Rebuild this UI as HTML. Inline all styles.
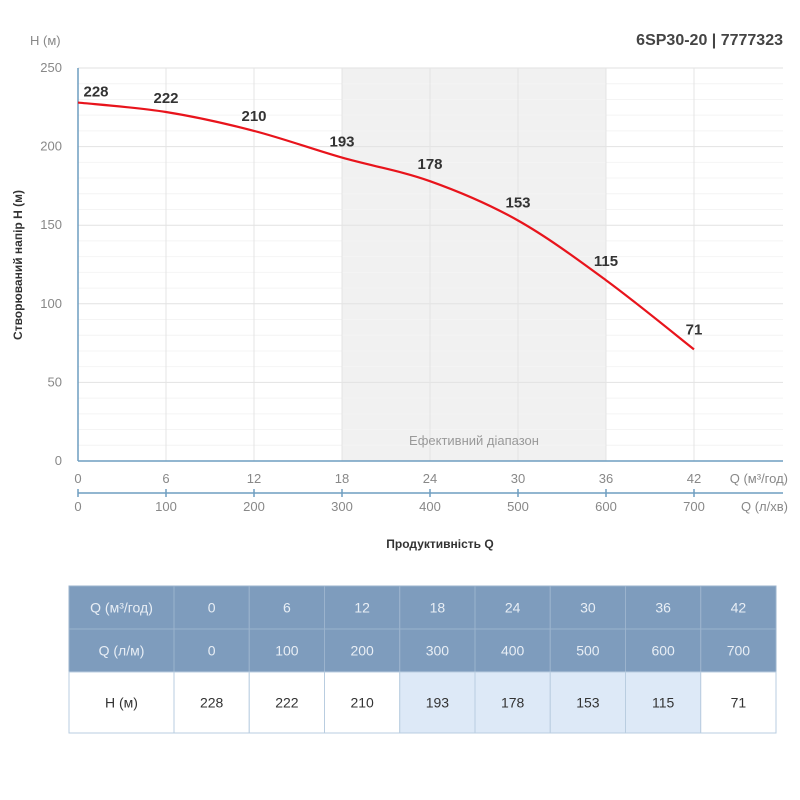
<!DOCTYPE html>
<html><head><meta charset="utf-8"><style>
body{margin:0;background:#fff;font-family:"Liberation Sans",sans-serif}
svg{display:block}
</style></head><body>
<svg width="800" height="800" viewBox="0 0 800 800">
<g id="plot"></g>
</svg>
<script>
const qM3 = [0,6,12,18,24,30,36,42];
const qLm = [0,100,200,300,400,500,600,700];
const head = [228,222,210,193,178,153,115,71];
const yTicks = [0,50,100,150,200,250];
const effRange = [18,36];
const NS='http://www.w3.org/2000/svg';
const svg=document.querySelector('svg');
const X0=78,XR=783,Y0=461,YT=68;
const xs=q=>X0+q*(616/42);
const ys=h=>Y0-h*(Y0-YT)/250;
function mk(t,a,p){const e=document.createElementNS(NS,t);for(const k in a)e.setAttribute(k,a[k]);(p||svg).appendChild(e);return e;}
function txt(s,a){const e=mk('text',a);e.textContent=s;return e;}
let sh=mk('rect',{x:xs(effRange[0]),y:YT,width:xs(effRange[1])-xs(effRange[0]),height:Y0-YT,fill:'#f1f1f1'});


for(let v=0;v<=250;v+=10){let l=mk('line',{x1:X0,x2:XR,y1:ys(v),y2:ys(v),stroke:v%50==0?'#e2e2e2':'#f4f4f4','stroke-width':1});

}
qM3.forEach(q=>{let l=mk('line',{x1:xs(q),x2:xs(q),y1:YT,y2:Y0,stroke:'#e4e4e4'});

});
let er=txt('Ефективний діапазон',{x:(xs(effRange[0])+xs(effRange[1]))/2,y:445,'text-anchor':'middle','font-size':13,fill:'#999'});


mk('line',{x1:X0,x2:X0,y1:YT,y2:Y0,stroke:'#6f9ec0','stroke-width':1.5});
mk('line',{x1:X0,x2:XR,y1:Y0,y2:Y0,stroke:'#6f9ec0','stroke-width':1.5});
mk('line',{x1:X0,x2:XR,y1:493,y2:493,stroke:'#6f9ec0','stroke-width':1.5});
yTicks.forEach(v=>{let t=txt(v,{x:62,y:ys(v)+4,'text-anchor':'end','font-size':13,fill:'#888'});

});
qM3.forEach((q,i)=>{
let t=txt(q,{x:xs(q),y:483,'text-anchor':'middle','font-size':13,fill:'#888'});


mk('line',{x1:xs(q),x2:xs(q),y1:489,y2:497,stroke:'#6f9ec0','stroke-width':1.5});
let t2=txt(qLm[i],{x:xs(q),y:511,'text-anchor':'middle','font-size':13,fill:'#888'});


});
txt('Q (м³/год)',{x:788,y:483,'text-anchor':'end','font-size':13,fill:'#888'});
txt('Q (л/хв)',{x:788,y:511,'text-anchor':'end','font-size':13,fill:'#888'});
txt('Продуктивність Q',{x:440,y:548,'text-anchor':'middle','font-size':12,'font-weight':'bold',fill:'#333'});
txt('Створюваний напір H (м)',{x:0,y:0,transform:'translate(22,265) rotate(-90)','text-anchor':'middle','font-size':12,'font-weight':'bold',fill:'#333'});
txt('H (м)',{x:30,y:45,'font-size':13,fill:'#888'});
txt('6SP30-20 | 7777323',{x:783,y:45,'text-anchor':'end','font-size':16,'font-weight':'bold',fill:'#444'});
const P=qM3.map((q,i)=>[xs(q),ys(head[i])]);
let d='M'+P[0][0]+','+P[0][1];
for(let i=0;i<P.length-1;i++){const p0=P[i-1]||P[i],p1=P[i],p2=P[i+1],p3=P[i+2]||p2;
d+=` C${p1[0]+(p2[0]-p0[0])/6},${p1[1]+(p2[1]-p0[1])/6} ${p2[0]-(p3[0]-p1[0])/6},${p2[1]-(p3[1]-p1[1])/6} ${p2[0]},${p2[1]}`;}
let c=mk('path',{d:d,fill:'none',stroke:'#e8141c','stroke-width':2.2});


qM3.forEach((q,i)=>{let t=txt(head[i],{x:xs(q)+(i==0?18:0),y:ys(head[i])-(i==0?6:8+i),'text-anchor':'middle','font-size':15,'font-weight':'bold',fill:'#333'});

});
const TX=69,C0=105,CW=75.25,R=[586,629,672,733];
const rows=[['Q (м³/год)',qM3],['Q (л/м)',qLm],['H (м)',head]];
rows.forEach((r,ri)=>{
const y=R[ri],h=R[ri+1]-R[ri];
const hdr=ri<2;
let cell=(x,w,val,hl,nm)=>{
let rc=mk('rect',{x:x,y:y,width:w,height:h,fill:hdr?'#7e9cbd':(hl?'#dde9f7':'#fff'),stroke:hdr?'#9bb3cd':'#b9cde0','stroke-width':1});


let t=txt(val,{x:x+w/2,y:y+h/2+5,'text-anchor':'middle','font-size':14,fill:hdr?'#e8eef5':'#333'});

};
cell(TX,C0,r[0],false,'table-row-header');
r[1].forEach((v,i)=>cell(TX+C0+i*CW,CW,v,!hdr&&qM3[i]>=effRange[0]&&qM3[i]<=effRange[1],'table'));
});
</script>
</body></html>
